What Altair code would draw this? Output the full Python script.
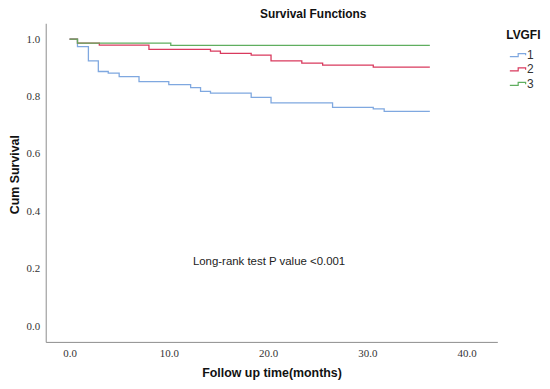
import altair as alt
import pandas as pd

# Kaplan-Meier step points (time in months, cumulative survival)
t1 = [0.0, 0.8, 1.9, 2.9, 3.9, 5.0, 7.0, 10.0, 12.2, 13.2, 14.2, 18.3, 20.3, 26.5, 30.6, 31.7, 36.3]
s1 = [1.0, 0.974, 0.924, 0.887, 0.881, 0.869, 0.852, 0.841, 0.831, 0.818, 0.812, 0.797, 0.778, 0.762, 0.757, 0.748, 0.748]

t2 = [0.0, 0.8, 3.0, 8.0, 14.2, 15.2, 18.3, 20.3, 23.4, 25.5, 30.6, 36.3]
s2 = [1.0, 0.986, 0.979, 0.964, 0.958, 0.950, 0.944, 0.924, 0.916, 0.909, 0.902, 0.902]

t3 = [0.0, 0.8, 10.2, 36.3]
s3 = [1.0, 0.986, 0.978, 0.978]

groups = ["1", "2", "3"]
colors = ["#7fa8e0", "#d93a5e", "#5fae5f"]
x_ticks = [0, 10, 20, 30, 40]
y_ticks = [0.0, 0.2, 0.4, 0.6, 0.8, 1.0]
note = "Long-rank test P value <0.001"

rows = []
for g, ts, ss in zip(groups, [t1, t2, t3], [s1, s2, s3]):
    for t, s in zip(ts, ss):
        rows.append({"time": t, "surv": s, "LVGFI": g})
df = pd.DataFrame(rows)

xscale = alt.Scale(domain=[-2.4, 43.1], nice=False, zero=False)
yscale = alt.Scale(domain=[-0.055, 1.055], nice=False, zero=False)

step_path = "M-1.4,0.25L0,0.25L0,-0.25L1.25,-0.25L1.25,0.05"

lines = alt.Chart(df).mark_line(interpolate="step-after", strokeWidth=1.3).encode(
    x=alt.X("time:Q", scale=xscale,
            axis=alt.Axis(values=x_ticks, format=".1f", title="Follow up time(months)",
                          grid=False, tickSize=0, labelPadding=6, domainColor="#8c8c8c",
                          labelFont="Liberation Serif", labelFontSize=11, labelColor="#333333",
                          titleFont="Liberation Sans", titleFontSize=12.5, titleFontWeight="bold",
                          titleColor="#111111", titleY=31, titleBaseline="middle")),
    y=alt.Y("surv:Q", scale=yscale,
            axis=alt.Axis(values=y_ticks, format=".1f", title="Cum Survival",
                          grid=False, tickSize=0, labelPadding=6, domainColor="#8c8c8c",
                          labelFont="Liberation Serif", labelFontSize=11, labelColor="#333333",
                          titleFont="Liberation Sans", titleFontSize=12.5, titleFontWeight="bold",
                          titleColor="#111111", titleX=-31, titleY=152, titleAngle=270,
                          titleBaseline="middle", titleAlign="center")),
    color=alt.Color("LVGFI:N", scale=alt.Scale(domain=groups, range=colors),
                    legend=alt.Legend(title="LVGFI", orient="none", legendX=464, legendY=7,
                                      titleFont="Liberation Sans", titleFontSize=12,
                                      titleFontWeight="bold", titleColor="#111111",
                                      titlePadding=6,
                                      labelFont="Liberation Sans", labelFontSize=12,
                                      labelColor="#333333", labelOffset=2,
                                      symbolType=step_path, symbolSize=144,
                                      symbolStrokeWidth=1.2, symbolOffset=5,
                                      rowPadding=1.5)),
)

text = alt.Chart(pd.DataFrame({"time": [20.1], "surv": [0.222], "label": [note]})).mark_text(
    font="Liberation Sans", fontSize=11.5, color="#222222", align="center", baseline="middle"
).encode(x=alt.X("time:Q", scale=xscale), y=alt.Y("surv:Q", scale=yscale), text="label:N")

chart = alt.layer(lines, text).properties(
    width=455, height=321,
    autosize=alt.AutoSizeParams(type="none"),
    padding={"left": 38, "top": 14, "right": 45, "bottom": 38},
    title=alt.TitleParams("Survival Functions", font="Liberation Sans", fontSize=12,
                          fontWeight="bold", color="#111111", anchor="middle", dx=42, offset=2),
).configure_view(stroke="transparent")

chart.save("out.html", embed_options={"renderer": "svg", "actions": False})
